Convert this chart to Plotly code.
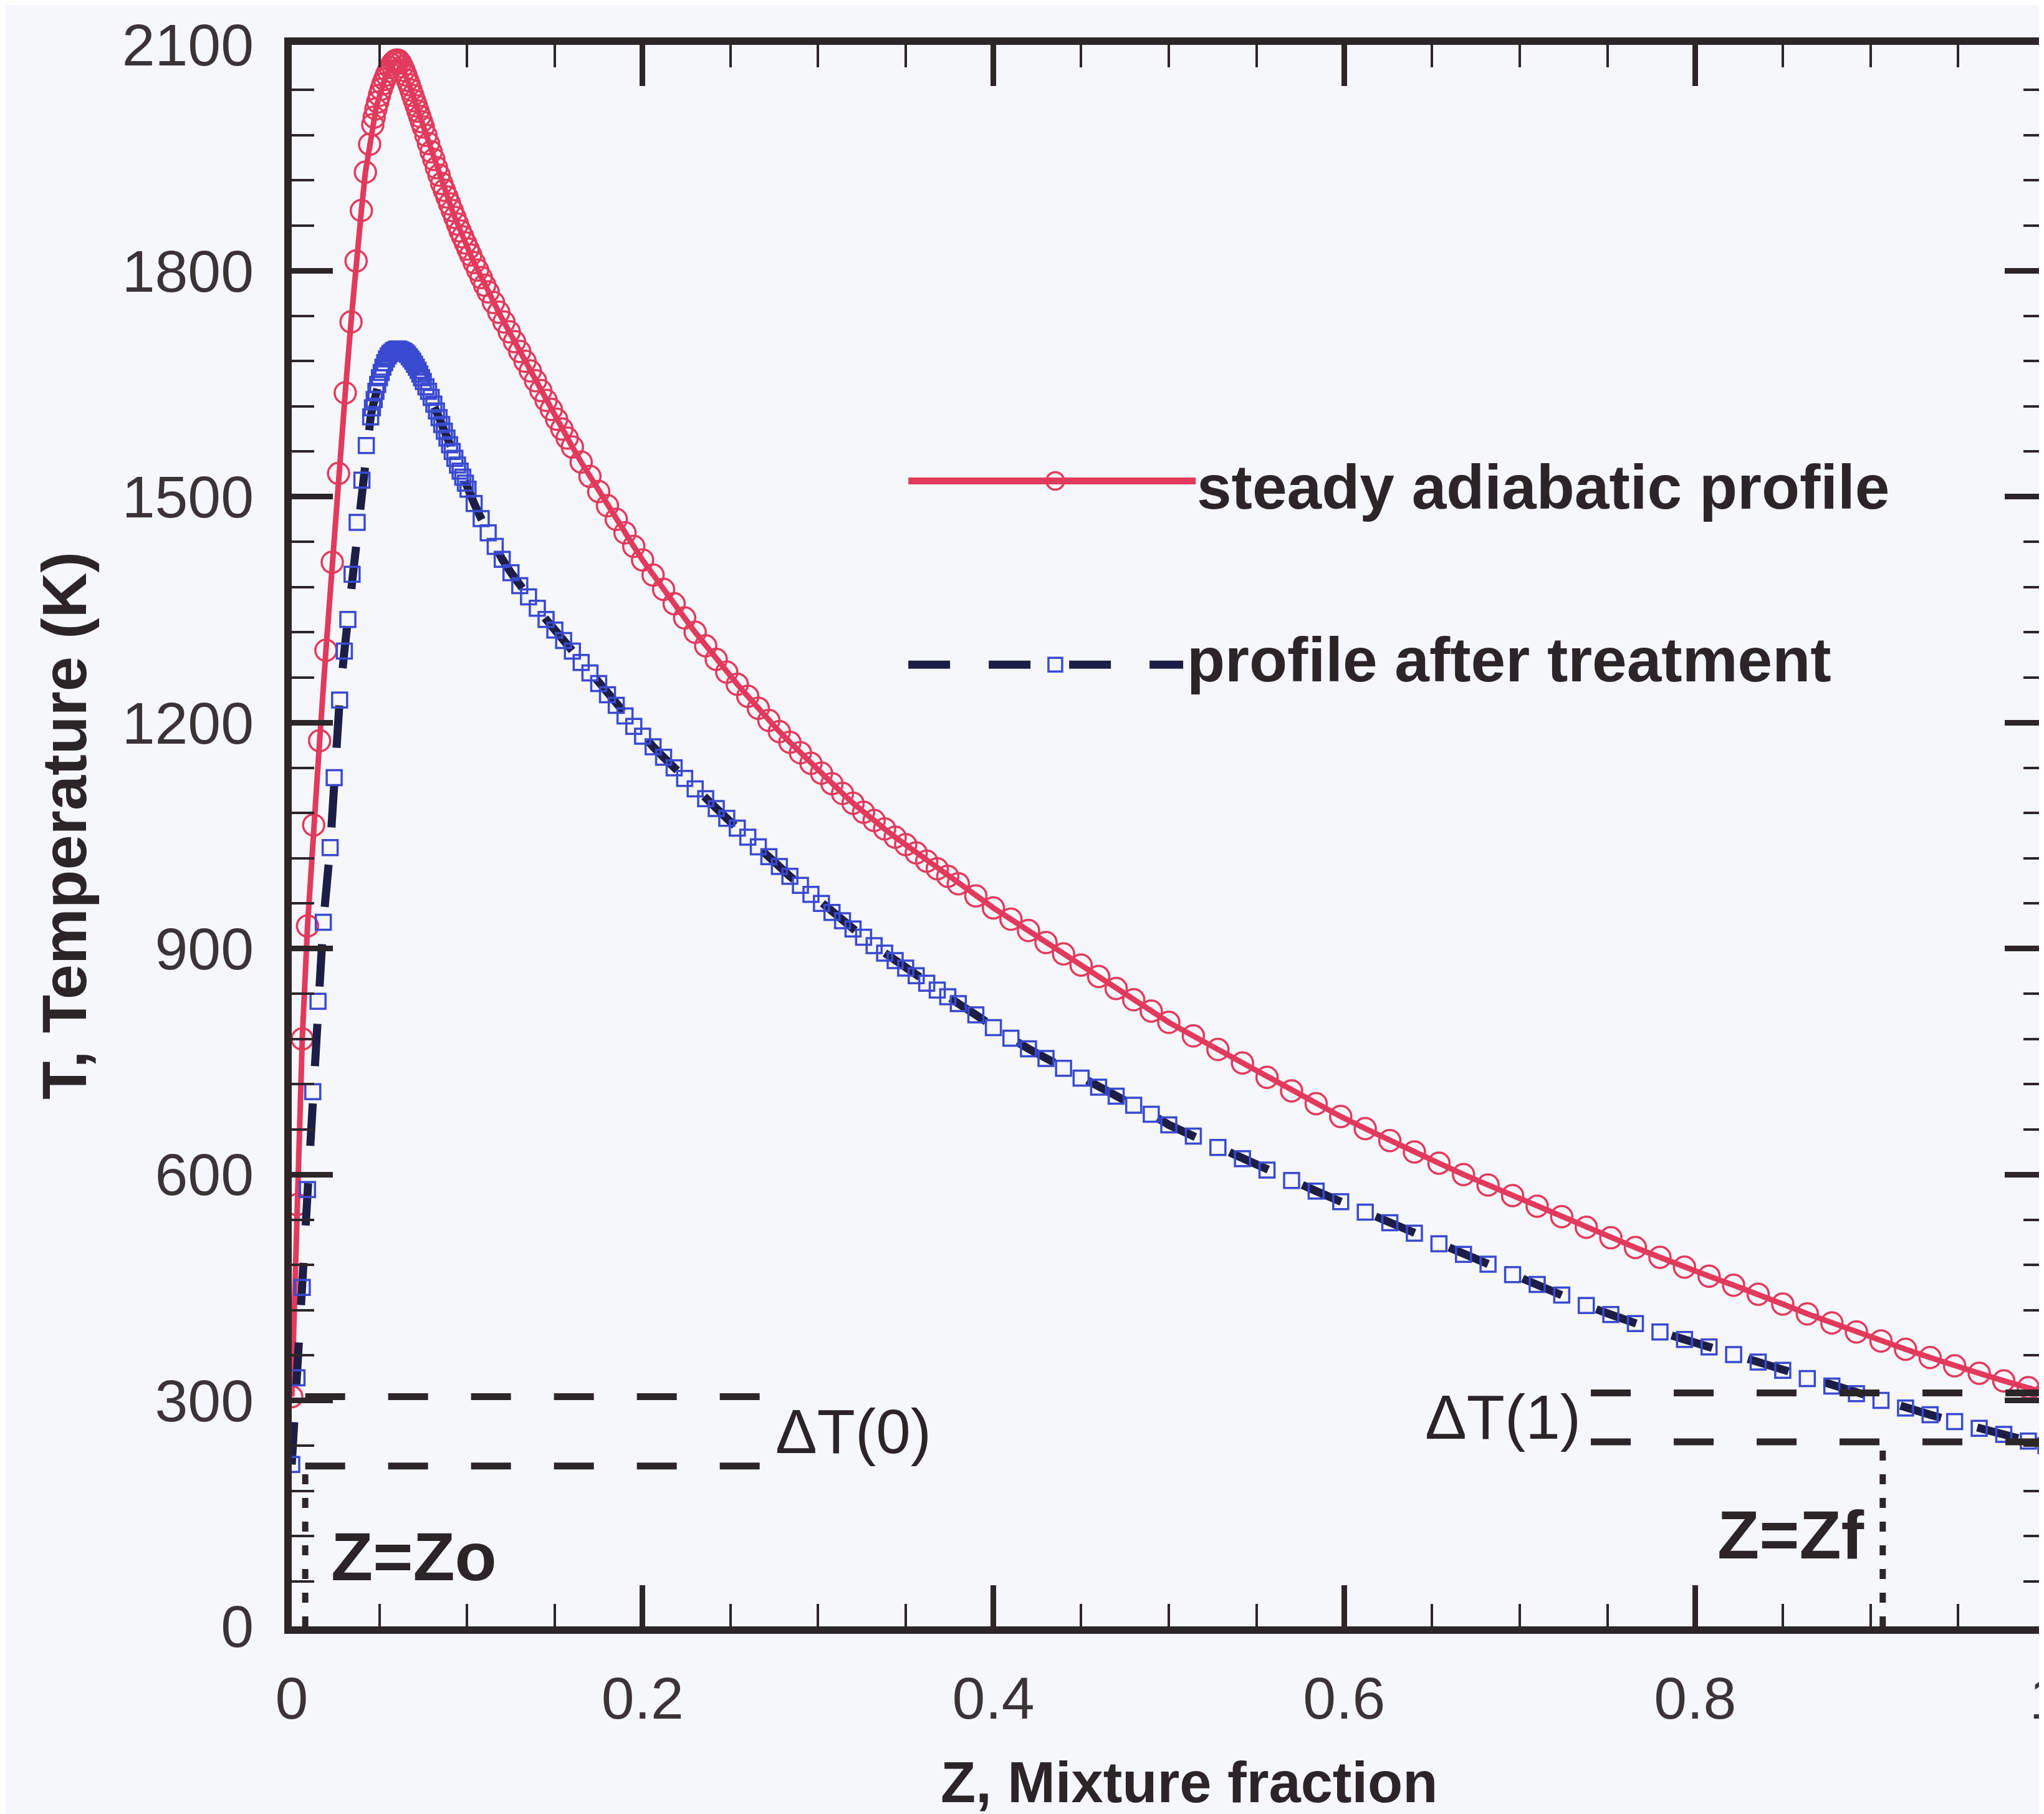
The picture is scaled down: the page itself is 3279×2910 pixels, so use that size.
import plotly.graph_objects as go

# ---------------- data ----------------
z_steady = [0, 0.003, 0.006, 0.009, 0.0125, 0.0159, 0.0195, 0.0231, 0.0267, 0.0305,
            0.0338, 0.0367, 0.0397, 0.042, 0.0444, 0.0462,
            0.047, 0.048, 0.049, 0.050, 0.051, 0.052, 0.053, 0.054, 0.055, 0.056,
            0.057, 0.058, 0.059, 0.060, 0.061, 0.062, 0.063, 0.064, 0.065, 0.066,
            0.067, 0.068, 0.069, 0.070, 0.071, 0.072, 0.073, 0.074, 0.075, 0.0765,
            0.078, 0.0795, 0.081, 0.0825, 0.084, 0.0855, 0.087, 0.0885, 0.090, 0.0915,
            0.093, 0.0945, 0.096, 0.0975, 0.099, 0.1005, 0.102, 0.104, 0.106, 0.108,
            0.110, 0.112, 0.115, 0.118, 0.121, 0.124, 0.127, 0.130, 0.133, 0.136,
            0.139, 0.142, 0.145, 0.148, 0.151, 0.154, 0.157, 0.160,
            0.165, 0.170, 0.175, 0.180, 0.185, 0.190, 0.195, 0.200, 0.206,
            0.212, 0.218, 0.224, 0.230, 0.236, 0.242, 0.248, 0.254, 0.260, 0.266,
            0.272, 0.278, 0.284, 0.290, 0.296, 0.302, 0.308, 0.314, 0.320, 0.326,
            0.332, 0.338, 0.344, 0.350, 0.356, 0.362, 0.368, 0.374, 0.380, 0.390,
            0.400, 0.410, 0.420, 0.430, 0.440, 0.450, 0.460, 0.470, 0.480, 0.490,
            0.500, 0.514, 0.528, 0.542, 0.556, 0.570, 0.584, 0.598, 0.612, 0.626,
            0.640, 0.654, 0.668, 0.682, 0.696, 0.710, 0.724, 0.738, 0.752, 0.766,
            0.780, 0.794, 0.808, 0.822, 0.836, 0.850, 0.864, 0.878, 0.892, 0.906,
            0.920, 0.934, 0.948, 0.962, 0.976, 0.990, 1.000]
t_steady = [305, 560, 780, 930, 1064, 1176, 1296, 1413, 1531, 1638,
            1732, 1813, 1880, 1931, 1968, 1994,
            2004, 2015, 2024, 2033, 2041, 2048, 2054, 2060, 2065, 2070,
            2074, 2077, 2079, 2080, 2079, 2076, 2071, 2066, 2060, 2053,
            2047, 2040, 2033, 2026, 2019, 2012, 2005, 1998, 1991, 1980,
            1969, 1958, 1948, 1937, 1927, 1916, 1907, 1898, 1889, 1880,
            1871, 1862, 1853, 1845, 1837, 1829, 1821, 1811, 1801, 1791,
            1781, 1772, 1758, 1745, 1732, 1719, 1706, 1693, 1680, 1667,
            1654, 1641, 1628, 1616, 1603, 1590, 1578, 1566,
            1546, 1527, 1507, 1488, 1470, 1452, 1434, 1416, 1396,
            1377, 1358, 1339, 1320, 1302, 1284, 1267, 1251, 1235, 1219,
            1203, 1188, 1174, 1160, 1146, 1133, 1119, 1106, 1093, 1081,
            1070, 1059, 1048, 1038, 1027, 1016, 1006, 996, 986, 970,
            954, 939, 924, 908, 893, 878, 863, 847, 832, 817,
            802, 784, 766, 748, 729, 711, 694, 677, 661, 645,
            630, 615, 600, 586, 572, 558, 544, 530, 516, 503,
            490, 477, 465, 453, 441, 428, 415, 403, 391, 379,
            368, 357, 346, 336, 326, 317, 310]

z_treated = [0, 0.003, 0.006, 0.009, 0.012, 0.015, 0.018, 0.0219, 0.0242, 0.0273,
             0.030, 0.032, 0.0344, 0.0373, 0.040, 0.0425,
             0.045, 0.046, 0.047, 0.048, 0.049, 0.050, 0.051, 0.052, 0.053, 0.054,
             0.055, 0.056, 0.057, 0.058, 0.059, 0.060, 0.061, 0.062, 0.063, 0.064,
             0.065, 0.066, 0.067, 0.068, 0.069, 0.070, 0.071, 0.072, 0.073, 0.074,
             0.075, 0.0765, 0.078, 0.0795, 0.081, 0.0825, 0.084, 0.0855, 0.087, 0.0885,
             0.090, 0.0915, 0.093, 0.0945, 0.096, 0.0975, 0.099, 0.1005, 0.104,
             0.108, 0.112, 0.116, 0.120, 0.125, 0.130, 0.135, 0.140, 0.145, 0.150,
             0.155, 0.160, 0.165, 0.170, 0.175, 0.180, 0.185, 0.190, 0.195, 0.200,
             0.206, 0.212, 0.218, 0.224, 0.230, 0.236, 0.242, 0.248, 0.254, 0.260,
             0.266, 0.272, 0.278, 0.284, 0.290, 0.296, 0.302, 0.308, 0.314, 0.320,
             0.326, 0.332, 0.338, 0.344, 0.350, 0.356, 0.362, 0.368, 0.374, 0.380,
             0.390, 0.400, 0.410, 0.420, 0.430, 0.440, 0.450, 0.460, 0.470, 0.480,
             0.490, 0.500, 0.514, 0.528, 0.542, 0.556, 0.570, 0.584, 0.598, 0.612,
             0.626, 0.640, 0.654, 0.668, 0.682, 0.696, 0.710, 0.724, 0.738, 0.752,
             0.766, 0.780, 0.794, 0.808, 0.822, 0.836, 0.850, 0.864, 0.878, 0.892,
             0.906, 0.920, 0.934, 0.948, 0.962, 0.976, 0.990, 1.000]
t_treated = [215, 330, 450, 580, 710, 830, 935, 1034, 1127, 1230,
             1295, 1337, 1397, 1466, 1522, 1568,
             1606, 1618, 1629, 1640, 1649, 1658, 1665, 1672, 1678, 1683,
             1687, 1690, 1692, 1694, 1695, 1696, 1696, 1695, 1694, 1693,
             1691, 1689, 1686, 1683, 1680, 1676, 1672, 1668, 1663, 1658,
             1653, 1646, 1640, 1632, 1623, 1614, 1605, 1596, 1587, 1578,
             1569, 1560, 1551, 1542, 1534, 1526, 1518, 1510, 1491,
             1471, 1452, 1434, 1417, 1399, 1382, 1367, 1352, 1337, 1323,
             1309, 1295, 1280, 1266, 1252, 1237, 1223, 1209, 1195, 1182,
             1168, 1154, 1140, 1126, 1112, 1099, 1086, 1073, 1060, 1048,
             1035, 1022, 1009, 996, 984, 972, 960, 948, 937, 926,
             915, 904, 894, 884, 874, 864, 854, 845, 836, 827,
             812, 795, 781, 767, 754, 741, 728, 716, 704, 692,
             680, 666, 651, 636, 621, 606, 592, 578, 564, 550,
             536, 522, 508, 494, 481, 467, 454, 440, 426, 414,
             402, 391, 381, 371, 361, 351, 340, 329, 319, 309,
             300, 290, 281, 272, 263, 255, 246, 240]

series_names = ["steady adiabatic profile", "profile after treatment"]
x_ticks = [0, 0.2, 0.4, 0.6, 0.8, 1]
x_ticktext = ["0", "0.2", "0.4", "0.6", "0.8", "1"]
y_ticks = [0, 300, 600, 900, 1200, 1500, 1800, 2100]

# boundary-condition markers
z_o, z_f = 0.0077, 0.907
t_edge_steady_0, t_edge_treated_0 = 305, 213
t_edge_steady_1, t_edge_treated_1 = 310, 245
z_left_end, z_right_start = 0.2697, 0.7406

# ---------------- styling ----------------
AX = "#2d2629"
TXT = "#2b2528"
RED = "#e23a5c"
NAVY = "#1c1e46"
BLUE = "#3a4ad0"
BG = "#f6f7fb"
FONT = "Liberation Sans, Arial, sans-serif"

fig = go.Figure()
fig.add_trace(go.Scatter(
    x=z_steady, y=t_steady, mode="lines+markers", name=series_names[0],
    line=dict(color=RED, width=9),
    marker=dict(symbol="circle-open", size=34, color=RED, line=dict(width=3.5, color=RED)),
    showlegend=False))
fig.add_trace(go.Scatter(
    x=z_treated, y=t_treated, mode="lines+markers", name=series_names[1],
    line=dict(color=NAVY, width=13, dash="68px,60px"),
    marker=dict(symbol="square-open", size=24, color=BLUE, line=dict(width=3.5, color=BLUE)),
    showlegend=False))

dash_long = "64px,69px"
dot_v = "16px,22px"
shapes = [
    dict(type="line", xref="x", yref="y", x0=z_o, x1=z_left_end, y0=t_edge_steady_0, y1=t_edge_steady_0,
         line=dict(color=AX, width=11, dash=dash_long)),
    dict(type="line", xref="x", yref="y", x0=z_o, x1=z_left_end, y0=t_edge_treated_0, y1=t_edge_treated_0,
         line=dict(color=AX, width=11, dash=dash_long)),
    dict(type="line", xref="x", yref="y", x0=z_right_start, x1=1, y0=t_edge_steady_1, y1=t_edge_steady_1,
         line=dict(color=AX, width=11, dash=dash_long)),
    dict(type="line", xref="x", yref="y", x0=z_right_start, x1=1, y0=t_edge_treated_1, y1=t_edge_treated_1,
         line=dict(color=AX, width=11, dash=dash_long)),
    dict(type="line", xref="x", yref="y", x0=z_o, x1=z_o, y0=0, y1=t_edge_treated_0,
         line=dict(color=AX, width=10, dash=dot_v)),
    dict(type="line", xref="x", yref="y", x0=z_f, x1=z_f, y0=0, y1=t_edge_treated_1,
         line=dict(color=AX, width=10, dash=dot_v)),
]

# manual legend (long sample lines as in the original)
leg_x0, leg_x1, leg_xm = 0.3515, 0.5153, 0.4353
leg_y_red, leg_y_blue = 1521, 1277
shapes += [
    dict(type="line", xref="x", yref="y", x0=leg_x0, x1=leg_x1, y0=leg_y_red, y1=leg_y_red,
         line=dict(color=RED, width=11)),
    dict(type="circle", xref="x", yref="y", xsizemode="pixel", ysizemode="pixel",
         xanchor=leg_xm, yanchor=leg_y_red, x0=-14, x1=14, y0=-14, y1=14,
         line=dict(color=RED, width=3.5), fillcolor="rgba(0,0,0,0)"),
    dict(type="line", xref="x", yref="y", x0=leg_x0, x1=0.5082, y0=leg_y_blue, y1=leg_y_blue,
         line=dict(color=NAVY, width=13, dash="67px,62px")),
    dict(type="rect", xref="x", yref="y", xsizemode="pixel", ysizemode="pixel",
         xanchor=leg_xm, yanchor=leg_y_blue, x0=-11, x1=11, y0=-11, y1=11,
         line=dict(color=BLUE, width=3.5), fillcolor=BG),
]

annotations = [
    dict(x=leg_x1, y=1513, xref="x", yref="y", text=series_names[0], showarrow=False,
         xanchor="left", yanchor="middle", font=dict(family=FONT, size=100, color=TXT, weight="bold")),
    dict(x=0.5095, y=1284, xref="x", yref="y", text=series_names[1], showarrow=False,
         xanchor="left", yanchor="middle", font=dict(family=FONT, size=100, color=TXT, weight="bold")),
    dict(x=0.275, y=259, xref="x", yref="y", text="ΔT(0)", showarrow=False,
         xanchor="left", yanchor="middle", font=dict(family=FONT, size=100, color=TXT)),
    dict(x=0.7356, y=278, xref="x", yref="y", text="ΔT(1)", showarrow=False,
         xanchor="right", yanchor="middle", font=dict(family=FONT, size=100, color=TXT)),
    dict(x=0.0217, y=93, xref="x", yref="y", text="Z=Zo", showarrow=False,
         xanchor="left", yanchor="middle", font=dict(family=FONT, size=110, color=TXT, weight="bold")),
    dict(x=0.8973, y=122, xref="x", yref="y", text="Z=Zf", showarrow=False,
         xanchor="right", yanchor="middle", font=dict(family=FONT, size=110, color=TXT, weight="bold")),
    dict(x=0.5114, y=-0.0985, xref="paper", yref="paper", text="Z, Mixture fraction", showarrow=False,
         xanchor="center", yanchor="middle", font=dict(family=FONT, size=92, color=TXT, weight="bold")),
    dict(x=-0.1297, y=0.5061, xref="paper", yref="paper", text="T, Temperature (K)", showarrow=False,
         textangle=-90, xanchor="center", yanchor="middle",
         font=dict(family=FONT, size=101, color=TXT, weight="bold")),
]

axis_common = dict(
    showline=True, linewidth=12, linecolor=AX, mirror="allticks",
    ticks="inside", ticklen=66, tickwidth=9, tickcolor=AX,
    showgrid=False, zeroline=False, automargin=False,
    ticklabeloverflow="allow",
    tickfont=dict(family=FONT, size=95, color="#3a3437"),
)

fig.update_xaxes(range=[0, 1], tickvals=x_ticks, ticktext=x_ticktext,
                 minor=dict(ticks="inside", ticklen=36, tickwidth=4, dtick=0.05, tickcolor=AX),
                 ticklabelstandoff=22, **axis_common)
fig.update_yaxes(range=[0, 2100], tickvals=y_ticks,
                 minor=dict(ticks="inside", ticklen=36, tickwidth=4, dtick=60, tickcolor=AX),
                 ticklabelstandoff=30, **axis_common)

fig.update_layout(
    width=3279, height=2910,
    margin=dict(l=460, r=5, t=64, b=309),
    paper_bgcolor=BG, plot_bgcolor=BG,
    shapes=shapes, annotations=annotations,
    showlegend=False,
)

fig.write_html("out.html")
